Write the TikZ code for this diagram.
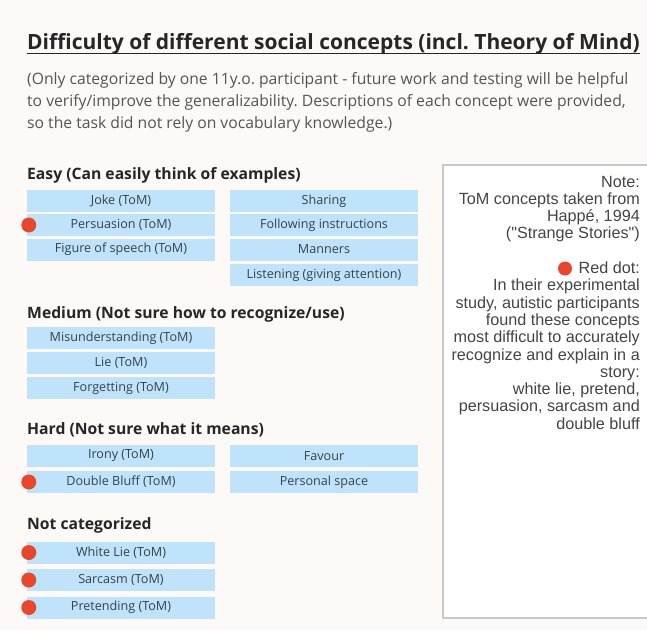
\documentclass[tikz,border=0pt]{standalone}
\usepackage{fontspec}
\setmainfont{Open Sans}
\newfontfamily\notefont{Liberation Sans}
\frenchspacing
\definecolor{pagebg}{HTML}{FCF9F7}
\definecolor{cellblue}{HTML}{BEE3FA}
\definecolor{celltext}{HTML}{36424C}
\definecolor{dotred}{HTML}{E8472B}
\definecolor{headtext}{HTML}{262626}
\definecolor{subtext}{HTML}{555555}
\definecolor{notetext}{HTML}{454545}
\definecolor{frame}{HTML}{C8C8C8}
\tikzset{
  cell/.style={rectangle, fill=cellblue, minimum width=188pt, minimum height=22pt,
    inner sep=0pt, text=celltext, font=\fontsize{12.6}{14}\selectfont},
  section/.style={anchor=base west, inner sep=0pt, text=headtext,
    font=\fontsize{15.7}{18}\selectfont\bfseries},
  sub/.style={anchor=base west, inner sep=0pt, text=subtext,
    font=\fontsize{15.7}{18}\selectfont},
  noteline/.style={anchor=base east, inner sep=0pt, text=notetext,
    font=\notefont\fontsize{16.2}{17}\selectfont},
  reddot/.style={circle, fill=dotred, minimum size=15pt, inner sep=0pt}
}
\begin{document}
\begin{tikzpicture}[x=1pt,y=-1pt]
  % page
  \fill[pagebg] (0,0) rectangle (647,630);
  \useasboundingbox (0,0) rectangle (647,630);

  % title and intro
  \node[anchor=base west, inner sep=0pt, text=headtext,
        font=\fontsize{21}{24}\selectfont\bfseries] (title) at (27,49)
        {Difficulty of different social concepts (incl. Theory of Mind)};
  \draw[headtext, line width=1.5pt]
        ([yshift=-4.5pt]title.base west) -- ([yshift=-4.5pt]title.base east);
  \node[sub] (s1) at (27,84) {(Only categorized by one 11y.o. participant - future work and testing will be helpful};
  \node[sub] (s2) at (27,106) {to verify/improve the generalizability. Descriptions of each concept were provided,};
  \node[sub] (s3) at (27,128) {so the task did not rely on vocabulary knowledge.)};

  % easy
  \node[section] (easy) at (27,179) {Easy (Can easily think of examples)};
  \node[cell] (joke)   at (121,201)   {Joke (ToM)};
  \node[cell] (pers)   at (121,225)   {Persuasion (ToM)};
  \node[cell] (fig)    at (121,249.5) {Figure of speech (ToM)};
  \node[cell] (share)  at (324,201)   {Sharing};
  \node[cell] (follow) at (324,225)   {Following instructions};
  \node[cell] (mann)   at (324,249.5) {Manners};
  \node[cell] (listen) at (324,275)   {Listening (giving attention)};

  % medium
  \node[section] (medium) at (27,318) {Medium (Not sure how to recognize/use)};
  \node[cell] (misund) at (121,338) {Misunderstanding (ToM)};
  \node[cell] (lie)    at (121,363) {Lie (ToM)};
  \node[cell] (forget) at (121,388) {Forgetting (ToM)};

  % hard
  \node[section] (hard) at (27,434) {Hard (Not sure what it means)};
  \node[cell] (irony)  at (121,456) {Irony (ToM)};
  \node[cell] (bluff)  at (121,482) {Double Bluff (ToM)};
  \node[cell] (favour) at (324,456) {Favour};
  \node[cell] (space)  at (324,482) {Personal space};

  % not categorized
  \node[section] (notcat) at (27,529) {Not categorized};
  \node[cell] (white)  at (121,552.5) {White Lie (ToM)};
  \node[cell] (sarc)   at (121,580)   {Sarcasm (ToM)};
  \node[cell] (pret)   at (121,607.5) {Pretending (ToM)};

  % red markers
  \foreach \c in {pers,bluff,white,sarc,pret}
    \node[reddot] at ([xshift=2pt]\c.west) {};

  % note panel
  \draw[frame, line width=1.5pt, fill=white] (443,165) rectangle (670,618);
  \node[noteline] (n1)  at (640,187)   {Note:};
  \node[noteline] (n2)  at (640,204.3) {ToM concepts taken from};
  \node[noteline] (n3)  at (640,221.6) {Happé, 1994};
  \node[noteline] (n4)  at (640,238.9) {("Strange Stories")};
  \node[noteline] (n5)  at (640,273.5) {Red dot:};
  \node[reddot, minimum size=14pt] (nd) at (565,268.5) {};
  \node[noteline] (n6)  at (640,290.8) {In their experimental};
  \node[noteline] (n7)  at (640,308.1) {study, autistic participants};
  \node[noteline] (n8)  at (640,325.4) {found these concepts};
  \node[noteline] (n9)  at (640,342.7) {most difficult to accurately};
  \node[noteline] (n10) at (640,360)   {recognize and explain in a};
  \node[noteline] (n11) at (640,377.3) {story:};
  \node[noteline] (n12) at (640,394.6) {white lie, pretend,};
  \node[noteline] (n13) at (640,411.9) {persuasion, sarcasm and};
  \node[noteline] (n14) at (640,429.2) {double bluff};
\end{tikzpicture}
\end{document}
